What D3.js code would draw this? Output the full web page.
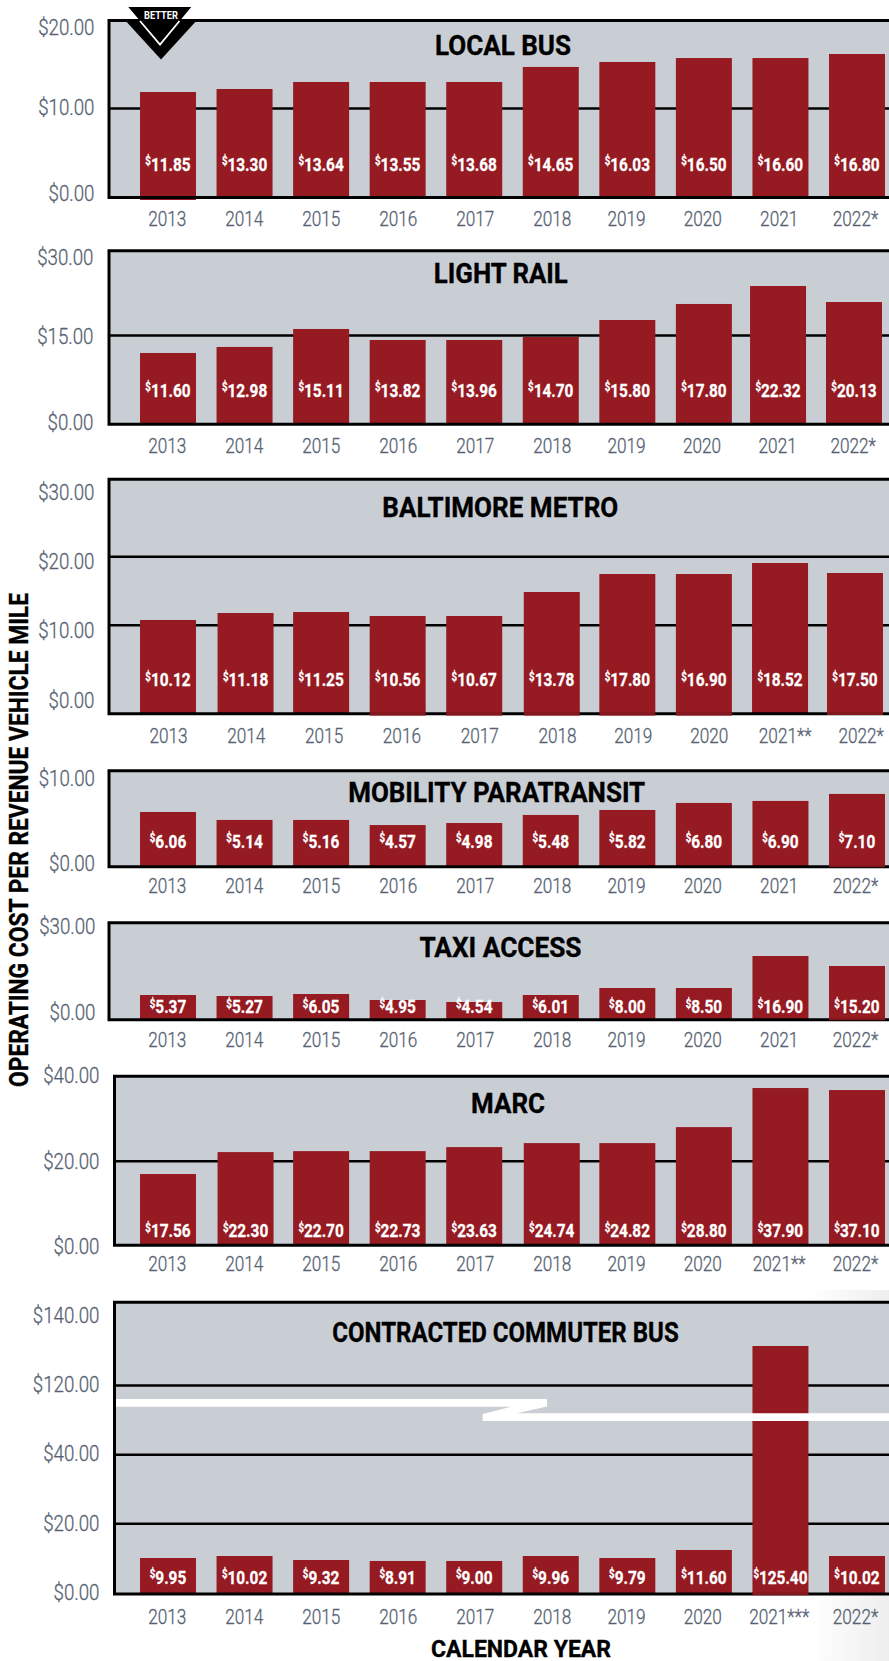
<!DOCTYPE html>
<html><head><meta charset="utf-8">
<script src="https://cdnjs.cloudflare.com/ajax/libs/d3/7.8.5/d3.min.js"></script>
<style>
html,body{margin:0;padding:0;background:#fff}
svg{display:block}
.yr text,.tl text{font-family:Roboto,sans-serif;font-weight:300;fill:#566272;stroke:#566272;stroke-width:.3px}
.val{font-family:Roboto,sans-serif;font-weight:700;fill:#fff;stroke:#fff;stroke-width:.3px}
.ttl{font-family:Roboto,sans-serif;font-weight:700;fill:#000;stroke:#000;stroke-width:.35px}
</style></head><body>
<script>
// ---- data ----
const yearsStandard = ["2013","2014","2015","2016","2017","2018","2019","2020","2021","2022*"];
const yearsMarc     = ["2013","2014","2015","2016","2017","2018","2019","2020","2021**","2022*"];
const yearsCommuter = ["2013","2014","2015","2016","2017","2018","2019","2020","2021***","2022*"];

// printed value labels
const localBusValues   = [11.85,13.30,13.64,13.55,13.68,14.65,16.03,16.50,16.60,16.80];
const lightRailValues  = [11.60,12.98,15.11,13.82,13.96,14.70,15.80,17.80,22.32,20.13];
const metroValues      = [10.12,11.18,11.25,10.56,10.67,13.78,17.80,16.90,18.52,17.50];
const mobilityValues   = [6.06,5.14,5.16,4.57,4.98,5.48,5.82,6.80,6.90,7.10];
const taxiValues       = [5.37,5.27,6.05,4.95,4.54,6.01,8.00,8.50,16.90,15.20];
const marcValues       = [17.56,22.30,22.70,22.73,23.63,24.74,24.82,28.80,37.90,37.10];
const commuterValues   = [9.95,10.02,9.32,8.91,9.00,9.96,9.79,11.60,125.40,10.02];

// bar heights as drawn, read against each panel's axis
const localBusLevels   = [11.83,12.17,12.97,12.97,12.97,14.69,15.26,15.71,15.71,16.17];
const lightRailLevels  = [11.98,12.99,16.07,14.16,14.16,14.66,17.67,20.52,23.72,20.87];
const metroLevels      = [10.69,11.71,11.85,11.27,11.27,14.78,17.41,17.41,19.02,17.56];
const mobilityLevels   = [5.70,4.87,4.87,4.34,4.55,5.39,5.91,6.64,6.85,7.58];
const taxiLevels       = [7.64,7.33,7.95,6.09,5.47,7.64,9.80,9.80,19.70,16.61];
const marcLevels       = [16.85,22.04,22.27,22.27,23.22,24.17,24.17,27.96,37.22,36.74];
const commuterLevels   = [10.18,10.75,9.62,9.34,9.34,10.75,10.18,12.45,129.43,10.75];

// axis ticks
const localBusTicks  = [0,10,20];
const lightRailTicks = [0,15,30];
const metroTicks     = [0,10,20,30];
const mobilityTicks  = [0,10];
const taxiTicks      = [0,30];
const marcTicks      = [0,20,40];
const commuterTicks  = [0,20,40,120,140];

// ---- layout ----
const W = 889, H = 1661, barColor = "#951a22", panelColor = "#c9ced5";
const yearPosStd = [166.7,551.7,626,855], yearPosMetro = [168,557,632.7,860.7];
const panels = [
 {title:"LOCAL BUS",left:109,gridY:[197.5,108,20.5],labelY:[193,107,27],labelX:94.5,years:yearsStandard,ticks:localBusTicks,values:localBusValues,levels:localBusLevels,
  valY:170.9,yearY:226,yearPos:yearPosStd,ttl:[503,54.5,136],dipBehind:{0:2.5}},
 {title:"LIGHT RAIL",left:109,gridY:[424.3,335,250.7],labelY:[421.7,336,256.3],labelX:93.5,years:yearsStandard,ticks:lightRailTicks,values:lightRailValues,levels:lightRailLevels,
  valY:396.9,yearY:452.7,yearPos:[166.7,551.7,626,852.7],ttl:[500.8,283.3,134],shift:{8:-2.4,9:-3}},
 {title:"BALTIMORE METRO",left:109,gridY:[713.7,624.7,556.3,479.3],labelY:[699.3,630,561,491.7],labelX:94.5,years:yearsMarc,ticks:metroTicks,values:metroValues,levels:metroLevels,
  valY:686.2,yearY:743.3,yearPos:yearPosMetro,ttl:[500.3,516.7,236],shift:{1:1,5:1,8:-.4,9:-2},dipOver:{3:2,4:2,5:2,6:2,7:2,9:1.3}},
 {title:"MOBILITY PARATRANSIT",left:109,gridY:[866.7,770.7],labelY:[862.7,777.7],labelX:95,years:yearsStandard,ticks:mobilityTicks,values:mobilityValues,levels:mobilityLevels,
  valY:847.6,yearY:892.7,yearPos:yearPosStd,ttl:[496.7,801.7,297],dipOver:{9:.5}},
 {title:"TAXI ACCESS",left:109,gridY:[1019.7,922.7],labelY:[1011.7,926],labelX:95.5,years:yearsStandard,ticks:taxiTicks,values:taxiValues,levels:taxiLevels,
  valY:1013.2,yearY:1046.7,yearPos:yearPosStd,ttl:[500.5,957.3,162],dipOver:{9:.5}},
 {title:"MARC",left:114.5,gridY:[1245.3,1160.7,1076.3],labelY:[1245.7,1161,1075],labelX:99.5,years:yearsMarc,ticks:marcTicks,values:marcValues,levels:marcLevels,
  valY:1237.2,yearY:1271,yearPos:yearPosStd,ttl:[508,1113.3,74],shift:{1:1,5:1}},
 {title:"CONTRACTED COMMUTER BUS",left:114.5,gridY:[1594,1523.3,1454.3,1385,1302.3],labelY:[1591.7,1522.3,1452.7,1383.7,1314.3],labelX:99.5,years:yearsCommuter,ticks:commuterTicks,values:commuterValues,levels:commuterLevels,
  valY:1583.9,yearY:1624,yearPos:yearPosStd,ttl:[505.5,1341.7,346.4],dipOver:{8:1.3}}
];

const svg = d3.select("body").append("svg").attr("width",W).attr("height",H).attr("viewBox",[0,0,W,H]);

// faint page shading, lower right
const defs = svg.append("defs");
const g0 = defs.append("linearGradient").attr("id","shade").attr("x1",0).attr("x2",1).attr("y1",0).attr("y2",0);
g0.append("stop").attr("offset",0).attr("stop-color","#fff");
g0.append("stop").attr("offset",1).attr("stop-color","#eeeeee");
svg.append("rect").attr("x",810).attr("y",1290).attr("width",79).attr("height",371).attr("fill","url(#shade)");

const xBand = d3.scaleBand().domain(d3.range(10)).range([140,885]).paddingInner(0.2685).paddingOuter(0);

panels.forEach(p=>{
  const g = svg.append("g").attr("class","panel");
  const n = p.gridY.length, top = p.gridY[n-1], base = p.gridY[0];
  const y = d3.scaleLinear().domain(p.ticks).range(p.gridY);
  const labelScale = d3.scaleLinear().domain(p.ticks).range(p.labelY);
  const yearScale = d3.scaleLinear().domain([0,5,6,9]).range(p.yearPos);
  const shift = i => (p.shift && p.shift[i]) || 0;

  g.append("rect").attr("x",p.left).attr("y",top).attr("width",W-p.left).attr("height",base-top).attr("fill",panelColor);

  // gridlines
  const grid = g.append("g").attr("transform",`translate(${p.left},0)`)
    .call(d3.axisLeft(y).tickValues(p.ticks.slice(1,-1)).tickSize(-(W-p.left)).tickFormat(""));
  grid.select(".domain").remove();
  grid.selectAll("line").attr("stroke","#000").attr("stroke-width",2.6);

  // bars (with the small overshoots below the baseline that sit behind the axis)
  g.selectAll("rect.bar").data(p.levels).join("rect").attr("class","bar")
    .attr("x",(d,i)=>xBand(i)+shift(i)).attr("width",xBand.bandwidth())
    .attr("y",d=>y(d))
    .attr("height",(d,i)=>base-y(d)+((p.dipBehind&&p.dipBehind[i])||0))
    .attr("fill",barColor);

  // frame
  g.append("path").attr("d",d3.line()([[W,top],[p.left,top],[p.left,base],[W,base]]))
    .attr("fill","none").attr("stroke","#000").attr("stroke-width",3);

  // bars that lie over the baseline
  if(p.dipOver) Object.keys(p.dipOver).forEach(k=>{
    const i=+k;
    g.append("rect").attr("x",xBand(i)+shift(i)).attr("width",xBand.bandwidth())
      .attr("y",base-2).attr("height",2+p.dipOver[k]).attr("fill",barColor).attr("opacity",.88);
  });

  // y tick labels
  const tl = g.append("g").attr("class","tl").attr("transform",`translate(${p.labelX},0)`)
    .call(d3.axisLeft(labelScale).tickValues(p.ticks).tickSize(0).tickPadding(0)
      .tickFormat(d=>"$"+d3.format(".2f")(d)));
  tl.select(".domain").remove();
  tl.selectAll("text").attr("font-size",21.5).attr("transform","scale(.87,1)").attr("dy","0.36em");

  // year labels
  const yr = g.append("g").attr("class","yr").attr("transform",`translate(0,${p.yearY})`)
    .call(d3.axisBottom(yearScale).tickValues(d3.range(10)).tickSize(0).tickPadding(0)
      .tickFormat(i=>p.years[i]));
  yr.select(".domain").remove();
  yr.selectAll("text").attr("font-size",20).attr("transform","scale(.86,1)").attr("dy",0).attr("y",0);

  // value labels
  const vals = g.selectAll("text.val").data(p.values).join("text").attr("class","val")
    .attr("transform",(d,i)=>`translate(${xBand(i)+shift(i)+xBand.bandwidth()/2},${p.valY}) scale(.81,1)`)
    .attr("text-anchor","middle").attr("font-size",19);
  vals.append("tspan").attr("font-size",12).attr("dy",-5.5).text("$");
  vals.append("tspan").attr("dy",5.5).text(d=>d3.format(".2f")(d));

  // panel title
  g.append("text").attr("class","ttl").attr("x",p.ttl[0]).attr("y",p.ttl[1]).attr("text-anchor","middle")
    .attr("font-size",28.5).attr("textLength",p.ttl[2]).attr("lengthAdjust","spacingAndGlyphs").text(p.title);
});

// axis break on the commuter panel
svg.append("path").attr("fill","#fff").attr("d",
  d3.line()([[116,1399],[547,1399],[547,1406.5],[517,1413.3],[889,1413.3],[889,1421],[482.7,1421],[482.7,1414],[511,1406.7],[116,1406.7]])+"Z");

// BETTER badge
const badge = svg.append("g");
badge.append("path").attr("d",d3.line()([[126.7,22],[195.3,22],[161,59.5]])+"Z").attr("fill","#000");
badge.append("path").attr("d",d3.line()([[128.3,7],[191.3,7],[160,44.5]])+"Z").attr("fill","#000");
badge.append("path").attr("d",d3.line()([[140,21],[160,44.5],[179.5,21]])).attr("fill","none").attr("stroke","#fff").attr("stroke-width",1.8);
badge.append("text").attr("x",161).attr("y",19).attr("text-anchor","middle").attr("font-family","Roboto,sans-serif")
  .attr("font-weight",700).attr("font-size",11).attr("fill","#fff").attr("textLength",34).attr("lengthAdjust","spacingAndGlyphs").text("BETTER");

// axis titles
svg.append("text").attr("class","ttl").attr("x",521).attr("y",1656.5).attr("text-anchor","middle")
  .attr("font-size",24).attr("textLength",180).attr("lengthAdjust","spacingAndGlyphs").text("CALENDAR YEAR");
svg.append("text").attr("class","ttl").attr("transform","translate(27.5,840) rotate(-90)").attr("text-anchor","middle")
  .attr("font-size",25).attr("textLength",494).attr("lengthAdjust","spacingAndGlyphs").text("OPERATING COST PER REVENUE VEHICLE MILE");
</script>
</body></html>
